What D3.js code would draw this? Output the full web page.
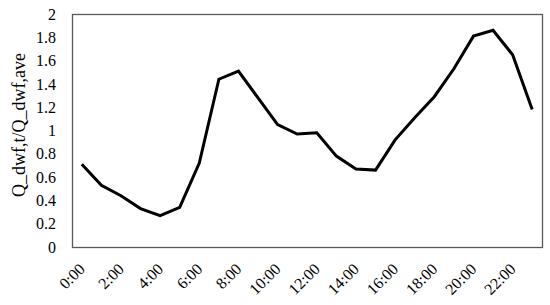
<!DOCTYPE html>
<html>
<head>
<meta charset="utf-8">
<script src="https://cdn.jsdelivr.net/npm/d3@7"></script>
<style>
  body { margin: 0; background: #fff; }
  svg text { font-family: "Liberation Serif", "Times New Roman", serif; fill: #000; }
</style>
</head>
<body>
<div id="chart"></div>
<script>
// hourly dry weather flow ratio
var hours = d3.range(24).map(function(h) { return h + ":00"; });
var ratio = [0.71, 0.53, 0.44, 0.33, 0.27, 0.34, 0.72, 1.44, 1.51, 1.28, 1.05, 0.97,
             0.98, 0.78, 0.67, 0.66, 0.92, 1.11, 1.29, 1.53, 1.81, 1.86, 1.65, 1.18];
var yTicks = [0, 0.2, 0.4, 0.6, 0.8, 1, 1.2, 1.4, 1.6, 1.8, 2];
var yTitle = "Q_dwf,t/Q_dwf,ave";

var width = 550, height = 305;
var margin = {top: 14, right: 8, bottom: 58, left: 72};

var svg = d3.select("#chart").append("svg")
  .attr("width", width)
  .attr("height", height);

var x = d3.scaleBand()
  .domain(hours)
  .range([margin.left, width - margin.right]);

var y = d3.scaleLinear()
  .domain([0, 2])
  .range([height - margin.bottom, margin.top]);

// plot frame
svg.append("rect")
  .attr("x", margin.left + 0.5)
  .attr("y", margin.top + 0.5)
  .attr("width", width - margin.left - margin.right)
  .attr("height", height - margin.top - margin.bottom)
  .attr("fill", "none")
  .attr("stroke", "#595959")
  .attr("stroke-width", 1.3);

// y axis labels
var yAxis = d3.axisLeft(y).tickValues(yTicks).tickSize(0).tickPadding(16)
  .tickFormat(function(d) { return d3.format("~g")(d); });
svg.append("g")
  .attr("transform", "translate(" + margin.left + ",0)")
  .call(yAxis)
  .call(function(g) { g.select(".domain").remove(); })
  .selectAll("text")
  .style("font-size", "16px");

// x axis labels, every second hour, rotated
var xAxis = d3.axisBottom(x).tickSize(0)
  .tickValues(hours.filter(function(d, i) { return i % 2 === 0; }));
svg.append("g")
  .attr("transform", "translate(0," + (height - margin.bottom) + ")")
  .call(xAxis)
  .call(function(g) { g.select(".domain").remove(); })
  .selectAll("text")
  .style("font-size", "16px")
  .attr("text-anchor", "end")
  .attr("x", 0)
  .attr("y", 0)
  .attr("dy", 0)
  .attr("transform", "translate(4,23) rotate(-45)");

// y title
svg.append("text")
  .attr("transform", "translate(25,125) rotate(-90)")
  .attr("text-anchor", "middle")
  .style("font-size", "18px")
  .text(yTitle);

var line = d3.line()
  .x(function(d, i) { return x(hours[i]) + x.bandwidth() / 2; })
  .y(function(d) { return y(d); });

svg.append("path")
  .datum(ratio)
  .attr("fill", "none")
  .attr("stroke", "#000")
  .attr("stroke-width", 3)
  .attr("stroke-linejoin", "miter")
  .attr("d", line);
</script>
</body>
</html>
